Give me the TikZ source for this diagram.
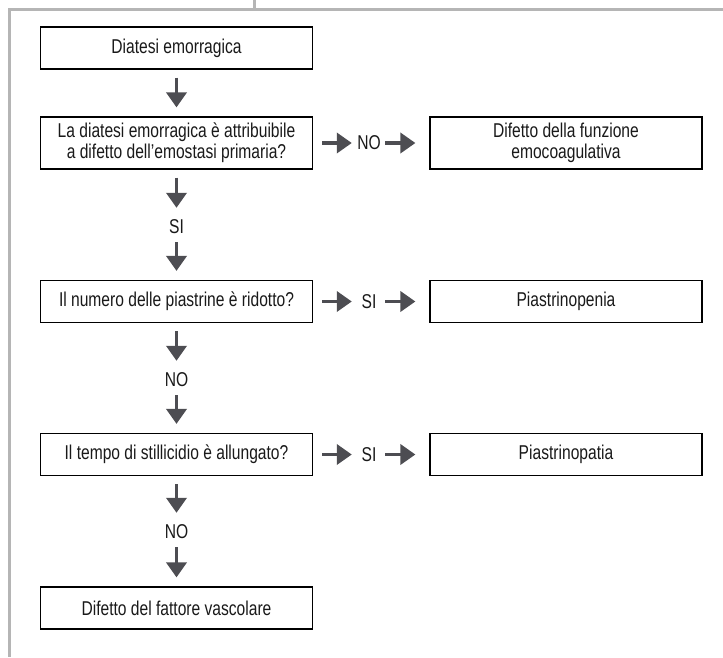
\documentclass[tikz,border=0pt]{standalone}
\usepackage{fontspec}
\setmainfont{Liberation Sans}[FakeStretch=0.78]
\usepackage{tikz}
\usetikzlibrary{arrows.meta, positioning}
\definecolor{frameGray}{gray}{0.71}
\definecolor{arrowGray}{RGB}{77,77,82}
\definecolor{textBlack}{gray}{0.1}

\begin{document}
\begin{tikzpicture}[x=1pt, y=-1pt,
    box/.style={draw=black, line width=1.2pt, minimum width=272pt, minimum height=42pt,
        inner sep=0pt, align=center, font=\fontsize{20}{21}\selectfont, text=textBlack},
    tallbox/.style={box, minimum height=52pt},
    answer/.style={inner sep=0pt, minimum width=30pt, minimum height=30pt,
        font=\fontsize{20}{21}\selectfont, text=textBlack},
    flow/.style={arrowGray, line width=3.6pt, -{Triangle[length=15pt, width=20pt]}}]
    \useasboundingbox (0,0) rectangle (723,657);

    % Frame
    \draw[frameGray, line width=3pt] (254,0) -- (254,9.5);
    \draw[frameGray, line width=3pt] (723,9.5) -- (9.5,9.5) -- (9.5,657);

    % Main column
    \node[box] (start) at (176.5,48) {Diatesi emorragica};
    \node[tallbox] (primaria) at (176.5,143) {La diatesi emorragica è attribuibile\\a difetto dell’emostasi primaria?};
    \node[box] (numero) at (176.5,301.5) {Il numero delle piastrine è ridotto?};
    \node[box] (tempo) at (176.5,454.5) {Il tempo di stillicidio è allungato?};
    \node[box] (vascolare) at (176.5,608) {Difetto del fattore vascolare};

    % Right column
    \node[tallbox] (emocoag) at (566,143) {Difetto della funzione\\emocoagulativa};
    \node[box] (penia) at (566,301.5) {Piastrinopenia};
    \node[box] (patia) at (566,454.5) {Piastrinopatia};

    % Answers
    \node[answer] (siA) at (176.5,227) {SI};
    \node[answer] (noB) at (176.5,380) {NO};
    \node[answer] (noC) at (176.5,532) {NO};
    \node[answer] (noA) at (369,143) {NO};
    \node[answer] (siB) at (369,301.5) {SI};
    \node[answer] (siC) at (369,454.5) {SI};

    % Vertical arrows
    \draw[flow, shorten <=8pt, shorten >=9pt] (start) -- (primaria);
    \draw[flow, shorten <=8pt, shorten >=4pt] (primaria) -- (siA);
    \draw[flow, shorten >=9pt] (siA) -- (numero);
    \draw[flow, shorten <=8pt, shorten >=4pt] (numero) -- (noB);
    \draw[flow, shorten >=9pt] (noB) -- (tempo);
    \draw[flow, shorten <=8pt, shorten >=4pt] (tempo) -- (noC);
    \draw[flow, shorten >=9pt] (noC) -- (vascolare);

    % Horizontal arrows
    \draw[flow, shorten <=9pt, shorten >=2pt] (primaria) -- (noA);
    \draw[flow, shorten <=1pt, shorten >=14pt] (noA) -- (emocoag);
    \draw[flow, shorten <=9pt, shorten >=2pt] (numero) -- (siB);
    \draw[flow, shorten <=1pt, shorten >=14pt] (siB) -- (penia);
    \draw[flow, shorten <=9pt, shorten >=2pt] (tempo) -- (siC);
    \draw[flow, shorten <=1pt, shorten >=14pt] (siC) -- (patia);
\end{tikzpicture}
\end{document}
